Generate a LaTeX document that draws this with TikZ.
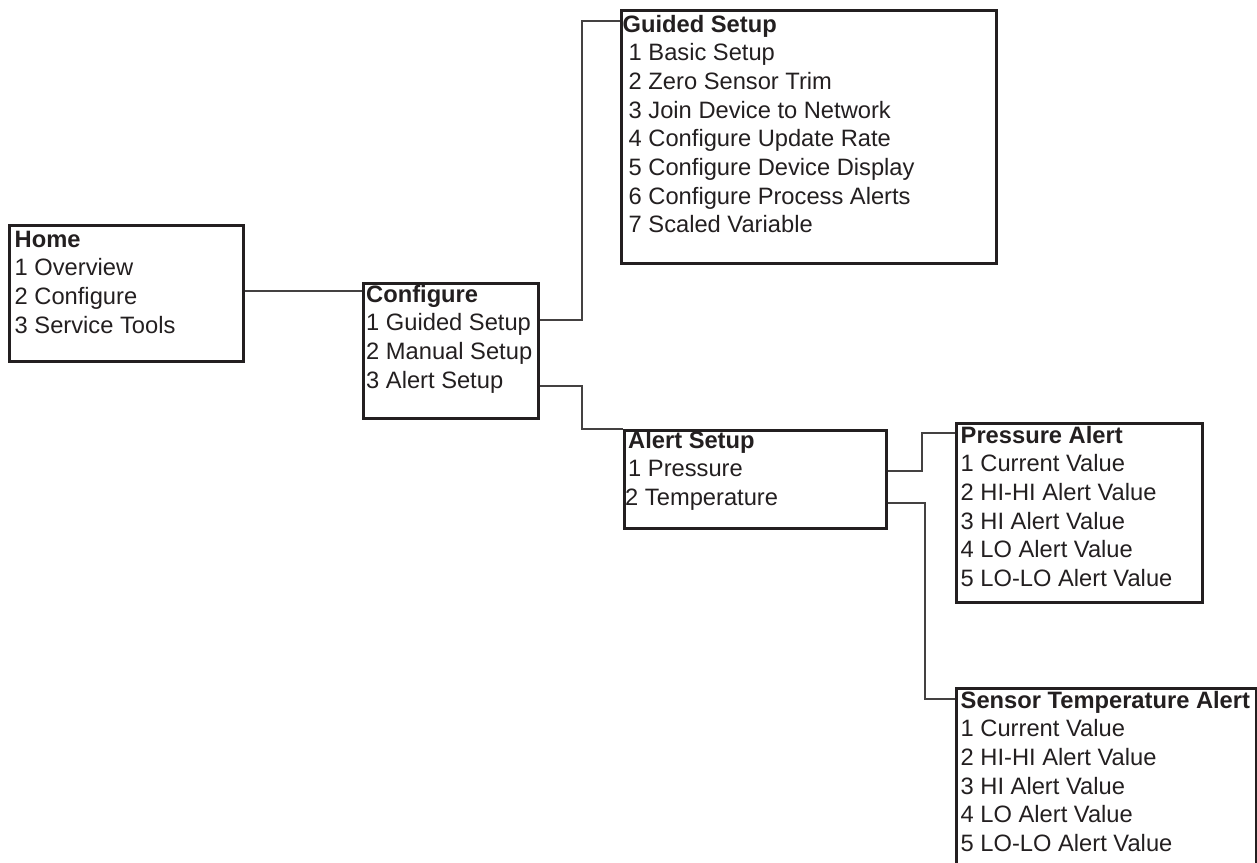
\documentclass[tikz,border=0pt]{standalone}
\usepackage{fontspec}
\setmainfont{Liberation Sans}
\definecolor{ink}{HTML}{231F20}
\newcommand{\ind}{\hspace*{6pt}}
\begin{document}
\begin{tikzpicture}[x=1pt,y=-1pt,
  box/.style={draw=ink, line width=3pt, inner sep=0pt, anchor=north west},
  menu/.style={anchor=base west, inner sep=0pt, text=ink, font=\fontsize{23.7}{28.7}\selectfont},
  conn/.style={draw=ink!85, line width=1.4pt}]
\useasboundingbox (0,0) rectangle (1257,862);
% boxes
\node[box, minimum width=234pt, minimum height=136pt] (home) at (7.5,223.5) {};
\node[box, minimum width=175pt, minimum height=135pt] (conf) at (361.5,281.5) {};
\node[box, minimum width=375pt, minimum height=253pt] (guided) at (619.5,8.5) {};
\node[box, minimum width=262pt, minimum height=98pt] (alert) at (622.5,428.5) {};
\node[box, minimum width=246pt, minimum height=179pt] (press) at (954.5,421.5) {};
\node[box, minimum width=300pt, minimum height=214pt] (sensor) at (954.5,686.5) {};
% texts
\node[menu] (homet) at (14.5,247) {\begin{tabular}[t]{@{}l@{}}\textbf{Home}\\1 Overview\\2 Configure\\3 Service Tools\end{tabular}};
\node[menu] (conft) at (366,302) {\begin{tabular}[t]{@{}l@{}}\textbf{Configure}\\1 Guided Setup\\2 Manual Setup\\3 Alert Setup\end{tabular}};
\node[menu] (guidedt) at (622.5,32) {\begin{tabular}[t]{@{}l@{}}\textbf{Guided Setup}\\\ind 1 Basic Setup\\\ind 2 Zero Sensor Trim\\\ind 3 Join Device to Network\\\ind 4 Configure Update Rate\\\ind 5 Configure Device Display\\\ind 6 Configure Process Alerts\\\ind 7 Scaled Variable\end{tabular}};
\node[menu] (alertt) at (628,448) {\begin{tabular}[t]{@{}l@{}}\textbf{Alert Setup}\\1 Pressure\\\hspace*{-3pt}2 Temperature\end{tabular}};
\node[menu] (presst) at (960.5,443) {\begin{tabular}[t]{@{}l@{}}\textbf{Pressure Alert}\\1 Current Value\\2 HI-HI Alert Value\\3 HI Alert Value\\4 LO Alert Value\\5 LO-LO Alert Value\end{tabular}};
\node[menu] (sensort) at (960.5,708) {\begin{tabular}[t]{@{}l@{}}\textbf{Sensor Temperature Alert}\\1 Current Value\\2 HI-HI Alert Value\\3 HI Alert Value\\4 LO Alert Value\\5 LO-LO Alert Value\end{tabular}};
% connectors
\draw[conn] (home.east |- 0,291) -- (conf.west |- 0,291);
\draw[conn] (conf.east |- 0,320) -| (582,21) -- (guided.west |- 0,21);
\draw[conn] (conf.east |- 0,386) -| (582,429) -- (alert.west |- 0,429);
\draw[conn] (alert.east |- 0,471) -| (922,433) -- (press.west |- 0,433);
\draw[conn] (alert.east |- 0,503) -| (925,699) -- (sensor.west |- 0,699);
\end{tikzpicture}
\end{document}
